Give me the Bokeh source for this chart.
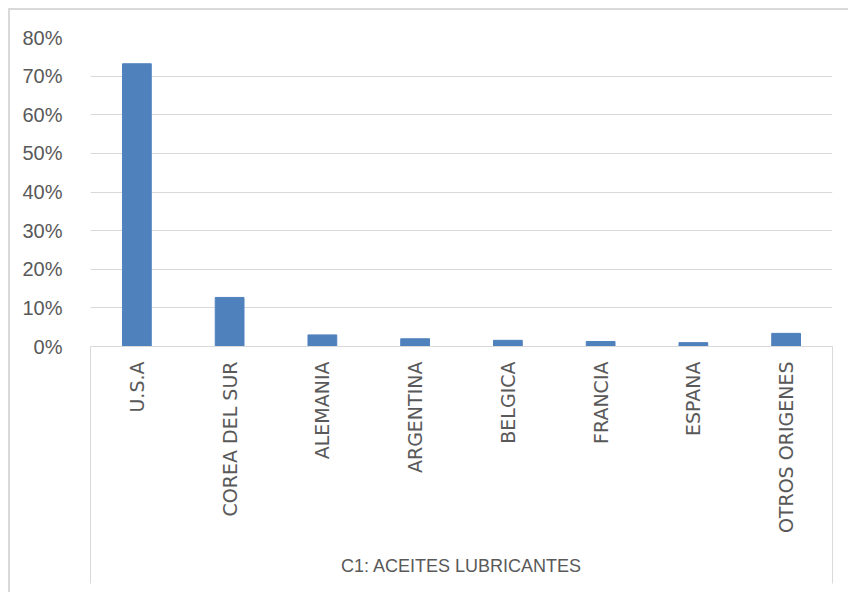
from math import pi
from bokeh.plotting import figure
from bokeh.models import (Range1d, LinearAxis, FixedTicker, NumeralTickFormatter,
                          ColumnDataSource)
from bokeh.embed import file_html
from bokeh.resources import INLINE

group_label = "C1: ACEITES LUBRICANTES"
categories = ["U.S.A", "COREA DEL SUR", "ALEMANIA", "ARGENTINA", "BELGICA",
              "FRANCIA", "ESPANA", "OTROS ORIGENES"]
shares = [0.732, 0.127, 0.030, 0.020, 0.016, 0.013, 0.010, 0.034]
y_ticks = [0.0, 0.1, 0.2, 0.3, 0.4, 0.5, 0.6, 0.7, 0.8]

TEXT = "#595959"
GRID = "#d9d9d9"
BAR = "#4f81bd"

n = len(categories)
centers = [i + 0.5 for i in range(n)]
src = ColumnDataSource(dict(x=centers, val=shares, cat=categories))

p = figure(x_range=Range1d(0, n), y_range=Range1d(0, 0.8),
           width=840, height=584, output_backend="svg", toolbar_location=None,
           x_axis_location=None, y_axis_location="left",
           min_border_left=80, min_border_right=18, min_border_top=27,
           min_border_bottom=248)
p.styles = {"margin-left": "8px", "margin-top": "8px",
            "border-left": "2px solid #d9d9d9", "border-top": "2px solid #d9d9d9"}
p.outline_line_color = None
p.background_fill_color = "white"
p.border_fill_color = "white"

p.vbar(x="x", top="val", width=0.31, source=src, color=BAR, line_color=BAR)

# y axis
ya = p.yaxis[0]
ya.ticker = FixedTicker(ticks=y_ticks)
ya.formatter = NumeralTickFormatter(format="0%")
ya.axis_line_color = None
ya.major_tick_line_color = None
ya.minor_tick_line_color = None
ya.major_label_text_font = "Liberation Sans"
ya.major_label_text_font_size = "20px"
ya.major_label_text_color = TEXT
ya.major_label_standoff = 22

p.xgrid.grid_line_color = None
p.ygrid.ticker = FixedTicker(ticks=y_ticks)
p.ygrid.grid_line_color = GRID
p.ygrid.grid_line_width = 1

# category axis; the group box edges are long minor ticks at the range edges
EDGE = 237
xa = LinearAxis(ticker=FixedTicker(ticks=centers, minor_ticks=[0, n]),
                major_label_overrides={c: lab for c, lab in zip(centers, categories)},
                axis_line_color=GRID, axis_line_width=1,
                major_tick_line_color=None, major_tick_out=0, major_tick_in=0,
                minor_tick_out=EDGE, minor_tick_in=0,
                minor_tick_line_color=GRID, minor_tick_line_width=1,
                major_label_orientation=pi / 2,
                major_label_text_font="DejaVu Sans",
                major_label_text_font_size="19px",
                major_label_text_color=TEXT,
                major_label_standoff=15 - EDGE,
                axis_label=group_label,
                axis_label_text_font="Liberation Sans",
                axis_label_text_font_size="18px",
                axis_label_text_font_style="normal",
                axis_label_text_color=TEXT,
                axis_label_standoff=20)
p.add_layout(xa, "below")

open("out.html", "w").write(file_html(p, INLINE))
